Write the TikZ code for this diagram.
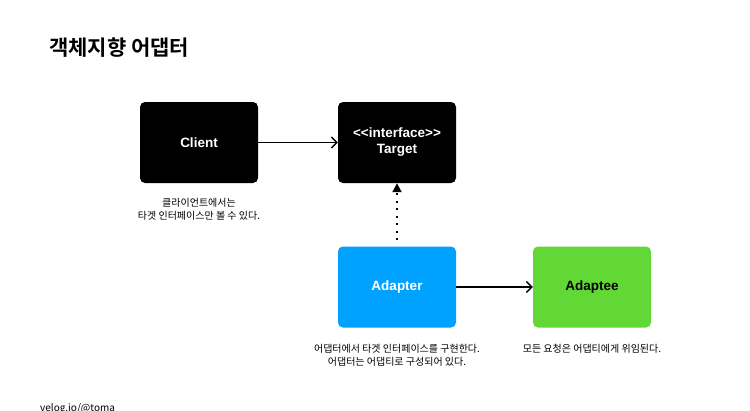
\documentclass[tikz,border=0pt]{standalone}
\usepackage{fontspec}
\setmainfont{Noto Sans CJK KR}[BoldFont={Noto Sans CJK KR Bold}]
\newfontfamily\boxfont{Liberation Sans}
\usetikzlibrary{arrows.meta}
\usetikzlibrary{calc}
\usepackage{xcolor}
\definecolor{adapterblue}{HTML}{00A2FF}
\definecolor{adapteegreen}{HTML}{61D836}

\begin{document}
\begin{tikzpicture}[x=1pt,y=-1pt]

\tikzset{line/.style={draw,line width=1.4pt}}
\tikzset{arrow/.style={line,-{Straight Barb[length=5.5pt,width=11pt]}}}
\tikzset{dotarrow/.style={draw,line width=2pt,dash pattern=on 2pt off 5.5pt,-{Triangle[length=9pt,width=9pt]}}}
\tikzset{box/.style={rounded corners=5pt,minimum width=118pt,minimum height=81pt,inner sep=0pt,text=white,font=\boxfont\bfseries\fontsize{13.5}{16}\selectfont,align=center}}
\tikzset{caption/.style={font=\fontsize{10}{13}\selectfont,align=center,inner sep=0pt}}

\useasboundingbox (0,0) rectangle (750,410);
\fill[white] (0,0) rectangle (750,410);

\node[anchor=west,inner sep=0pt,font=\bfseries\fontsize{21}{25}\selectfont] (title) at (49,48) {객체지향 어댑터};

\node[box,fill=black] (client) at (199,142.5) {Client};
\node[box,fill=black] (target) at (397,142.5) {{<}{<}interface{>}{>}\\Target};
\node[box,fill=adapterblue] (adapter) at (397,287) {Adapter};
\node[box,fill=adapteegreen,text=black] (adaptee) at (592,287) {Adaptee};

\node[caption] (clientnote) at (199,209.5) {클라이언트에서는\\타겟 인터페이스만 볼 수 있다.};
\node[caption] (adapternote) at (397,355.5) {어댑터에서 타겟 인터페이스를 구현한다.\\어댑터는 어댑티로 구성되어 있다.};
\node[caption] (adapteenote) at (592,349) {모든 요청은 어댑티에게 위임된다.};

\path[arrow] (client) to (target);
\path[arrow] (adapter) to (adaptee);
\path[dotarrow] ($(adapter.north)+(0,-6)$) to (target.south);

\node[anchor=west,inner sep=0pt,font=\fontsize{10}{12}\selectfont] (footer) at (40,409) {velog.io/@toma};

\end{tikzpicture}
\end{document}
